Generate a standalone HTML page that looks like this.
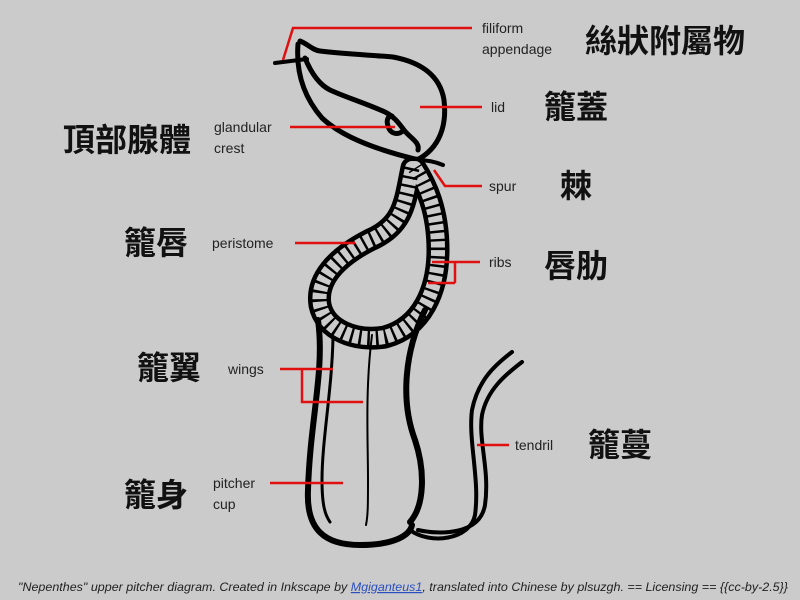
<!DOCTYPE html>
<html><head><meta charset="utf-8"><style>
html,body{margin:0;padding:0;background:#cbcbcb;}
svg{display:block}
.en{font-family:"Liberation Sans",sans-serif;font-size:14px;fill:#222}
.zh{font-family:"Liberation Sans","Noto Sans CJK TC",sans-serif;font-size:32px;font-weight:bold;fill:#111}
</style></head><body>
<svg width="800" height="600" viewBox="0 0 800 600" xmlns="http://www.w3.org/2000/svg">
<rect width="800" height="600" fill="#cbcbcb"/>
<g fill="none" stroke="#000" stroke-linecap="round" stroke-linejoin="round">
<!-- lid -->
<path d="M300,41 C308,44 312,50 320,51 C345,54 370,55 393,57 C420,62 440,75 444,100 C447,125 440,148 417,160" stroke-width="5"/>
<path d="M298,44 C296,70 302,95 322,118 C340,135 370,148 415,159" stroke-width="5"/>
<path d="M305,58 C312,75 320,85 330,90 C345,97 365,103 385,112 C395,117 400,125 404,130 C410,138 420,142 418,150 M404,130 C398,136 390,134 388,126 C386,120 388,116 392,116" stroke-width="5"/>
<path d="M275,63 L307,59" stroke-width="4"/>
<path d="M417,160 C427,160 436,162 443,165" stroke-width="4"/>
<!-- peristome band -->
<path d="M412,168 C405,200 405,225 370,240 C335,258 316,280 320,305 C325,330 355,342 385,337 C422,327 438,290 438,250 C438,210 426,185 415,168" stroke-width="23"/>
<path d="M412,168 C405,200 405,225 370,240 C335,258 316,280 320,305 C325,330 355,342 385,337 C422,327 438,290 438,250 C438,210 426,185 415,168" stroke="#cbcbcb" stroke-width="14"/>
<path d="M412,168 C405,200 405,225 370,240 C335,258 316,280 320,305 C325,330 355,342 385,337 C422,327 438,290 438,250 C438,210 426,185 415,168" stroke-width="15" stroke-dasharray="2.5 6" stroke-linecap="butt"/>
<!-- body -->
<path d="M318,320 C325,370 310,420 308,490 C306,530 325,545 360,545 C395,545 410,535 412,525" stroke-width="6"/>
<path d="M425,310 C405,350 400,400 415,440 C425,470 425,505 410,522" stroke-width="6"/>
<path d="M333,337 C332,390 322,440 322,480 C322,505 325,515 330,522" stroke-width="3"/>
<path d="M372,335 C365,390 368,440 368,480 C368,505 368,515 366,525" stroke-width="2"/>
<!-- tendril -->
<path d="M410,530 C430,545 470,540 475,515 C480,480 468,440 472,410 C478,380 495,365 512,352" stroke-width="4"/>
<path d="M418,530 C440,535 480,535 485,505 C490,470 478,440 482,415 C487,390 505,375 522,362" stroke-width="4"/>
</g>
<!-- red lines -->
<g stroke="#e01010" stroke-width="2.5" fill="none">
<path d="M283,60 L293,28 L472,28"/>
<path d="M420,107 L482,107"/>
<path d="M290,127 L395,127"/>
<path d="M434,170 L445,186 L482,186"/>
<path d="M295,243 L355,243"/>
<path d="M432,262 L480,262 M428,283 L455,283 M455,262 L455,283"/>
<path d="M280,369 L333,369 M302,369 L302,402 L363,402"/>
<path d="M477,445 L509,445"/>
<path d="M270,483 L343,483"/>
</g>
<g class="en">
<text x="482" y="33">filiform</text>
<text x="482" y="54">appendage</text>
<text x="491" y="112">lid</text>
<text x="214" y="132">glandular</text>
<text x="214" y="153">crest</text>
<text x="489" y="191">spur</text>
<text x="212" y="248">peristome</text>
<text x="489" y="267">ribs</text>
<text x="228" y="374">wings</text>
<text x="515" y="450">tendril</text>
<text x="213" y="488">pitcher</text>
<text x="213" y="509">cup</text>
</g>
<g class="zh">
<text x="585" y="52">絲狀附屬物</text>
<text x="544" y="118">籠蓋</text>
<text x="63" y="151">頂部腺體</text>
<text x="560" y="197">棘</text>
<text x="124" y="254">籠唇</text>
<text x="544" y="277">唇肋</text>
<text x="137" y="379">籠翼</text>
<text x="588" y="456">籠蔓</text>
<text x="124" y="506">籠身</text>
</g>
<text x="18" y="591" textLength="770" lengthAdjust="spacingAndGlyphs" font-family="Liberation Sans,sans-serif" font-size="12" font-style="italic" fill="#222">"Nepenthes" upper pitcher diagram. Created in Inkscape by <tspan fill="#2a4fc0" text-decoration="underline">Mgiganteus1</tspan>, translated into Chinese by plsuzgh. == Licensing == {{cc-by-2.5}}</text>
</svg>
</body></html>
